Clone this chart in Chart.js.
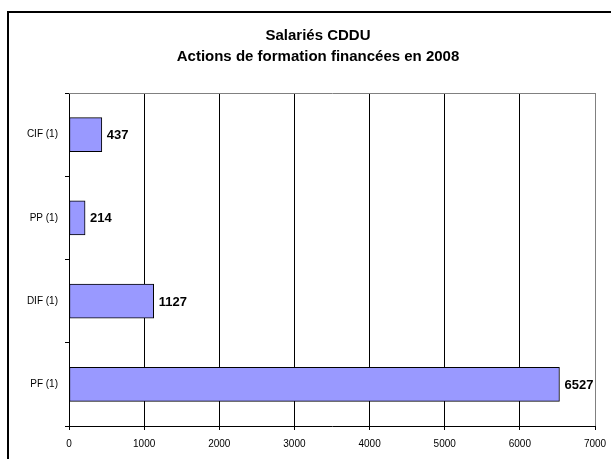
<!DOCTYPE html>
<html>
<head>
<meta charset="utf-8">
<script src="https://cdn.jsdelivr.net/npm/chart.js@4/dist/chart.umd.min.js"></script>
<style>
    html, body { margin: 0; padding: 0; background: #fff; }
    canvas { display: block; }
</style>
</head>
<body>
<canvas id="formation_chart" width="611" height="459"></canvas>
<script>
    'use strict';

    // Actions financées par dispositif
    var categories = ['CIF (1)', 'PP (1)', 'DIF (1)', 'PF (1)'];
    var actionCounts = [437, 214, 1127, 6527];
    var xTickValues = [0, 1000, 2000, 3000, 4000, 5000, 6000, 7000];
    var titleLines = ['Salariés CDDU', 'Actions de formation financées en 2008'];

    var FONT = '"Liberation Sans", Arial, sans-serif';

    // white background plus the outer frame of the chart object
    var framePlugin = {
        id: 'frame',
        beforeDraw: function (chart) {
            var ctx = chart.ctx;
            ctx.save();
            ctx.fillStyle = '#ffffff';
            ctx.fillRect(0, 0, chart.width, chart.height);
            ctx.fillStyle = '#000000';
            ctx.fillRect(7, 11, chart.width - 7, 2);
            ctx.fillRect(7, 11, 2, chart.height - 11);
            ctx.restore();
        },
        beforeDatasetsDraw: function (chart) {
            // grey top edge of the plot area
            var area = chart.chartArea;
            var ctx = chart.ctx;
            ctx.save();
            ctx.strokeStyle = '#808080';
            ctx.lineWidth = 1;
            ctx.beginPath();
            ctx.moveTo(area.left, area.top + 0.5);
            ctx.lineTo(area.right + 1, area.top + 0.5);
            ctx.stroke();
            ctx.restore();
        }
    };

    // two-line title, drawn by hand so it can sit off-centre
    var titlePlugin = {
        id: 'twoLineTitle',
        afterDraw: function (chart) {
            var ctx = chart.ctx;
            ctx.save();
            ctx.fillStyle = '#000000';
            ctx.font = 'bold 15px ' + FONT;
            ctx.textAlign = 'center';
            ctx.textBaseline = 'alphabetic';
            ctx.fillText(titleLines[0], 318, 40);
            ctx.fillText(titleLines[1], 318, 61);
            ctx.restore();
        }
    };

    // value written at the end of each bar
    var valueLabelPlugin = {
        id: 'valueLabels',
        afterDatasetsDraw: function (chart) {
            var ctx = chart.ctx;
            var meta = chart.getDatasetMeta(0);
            ctx.save();
            ctx.fillStyle = '#000000';
            ctx.font = 'bold 13px ' + FONT;
            ctx.textAlign = 'left';
            ctx.textBaseline = 'middle';
            meta.data.forEach(function (bar, i) {
                ctx.fillText(String(actionCounts[i]), bar.x + 5, bar.y + 1);
            });
            ctx.restore();
        }
    };

    var canvas = document.getElementById('formation_chart');
    var formationChart = new Chart(canvas, {
        type: 'bar',
        data: {
            labels: categories,
            datasets: [{
                label: 'Actions',
                data: actionCounts,
                backgroundColor: '#9999ff',
                borderColor: '#000000',
                borderWidth: 1,
                borderSkipped: false,
                barThickness: 34,
            }]
        },
        options: {
            indexAxis: 'y',
            responsive: false,
            animation: false,
            devicePixelRatio: 1,
            layout: {
                padding: { left: 0, top: 93, right: 16, bottom: 0 }
            },
            plugins: {
                legend: { display: false },
                title: { display: false },
                tooltip: { enabled: false }
            },
            scales: {
                x: {
                    type: 'linear',
                    min: xTickValues[0],
                    max: xTickValues[xTickValues.length - 1],
                    afterFit: function (scale) {
                        // keep the plot edges fixed, labels may overhang
                        scale.height = 33;
                        scale.paddingLeft = 0;
                        scale.paddingRight = 0;
                    },
                    afterBuildTicks: function (scale) {
                        scale.ticks = xTickValues.map(function (v) { return { value: v }; });
                    },
                    ticks: {
                        color: '#000000',
                        padding: 8,
                        font: { family: FONT, size: 10 },
                        callback: function (value) { return String(value); }
                    },
                    grid: {
                        color: function (context) {
                            return context.tick && context.tick.value === 7000 ? '#808080' : '#000000';
                        },
                        lineWidth: 1,
                        tickLength: 4,
                        tickColor: '#000000'
                    },
                    border: { color: '#000000', width: 1 }
                },
                y: {
                    afterFit: function (scale) { scale.width = 69; },
                    ticks: {
                        color: '#000000',
                        padding: 7,
                        font: { family: FONT, size: 10 }
                    },
                    grid: {
                        offset: true,
                        drawOnChartArea: false,
                        tickLength: 4,
                        color: '#000000'
                    },
                    border: { color: '#000000', width: 1 }
                }
            }
        },
        plugins: [framePlugin, titlePlugin, valueLabelPlugin]
    });
</script>
</body>
</html>
